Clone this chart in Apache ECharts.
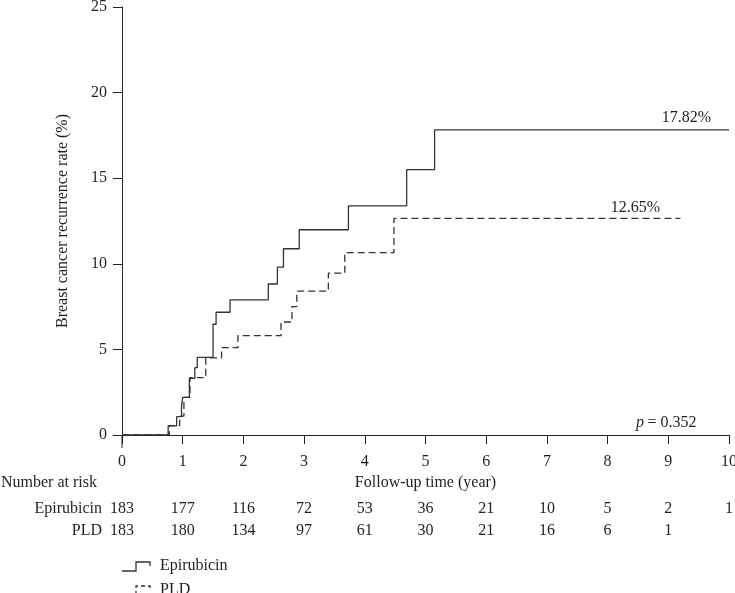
<!DOCTYPE html>
<html>
<head>
<meta charset="utf-8">
<script src="https://cdn.jsdelivr.net/npm/echarts@6/dist/echarts.min.js"></script>
<style>
html,body{margin:0;padding:0;background:#fff;}
#main{width:735px;height:593px;}
</style>
</head>
<body>
<div id="main"></div>
<script>
// ---- data ----
const xTicks = [0,1,2,3,4,5,6,7,8,9,10];
const seriesNames = ['Epirubicin', 'PLD'];
const epiTimes = [0, 0.76, 0.90, 0.98, 1.00, 1.11, 1.20, 1.24, 1.50, 1.55, 1.78, 2.41, 2.56, 2.66, 2.92, 3.73, 4.69, 5.15, 10.0];
const epiRates = [0, 0.53, 1.07, 1.65, 2.20, 3.31, 3.93, 4.54, 6.47, 7.17, 7.89, 8.82, 9.80, 10.88, 11.99, 13.38, 15.50, 17.82, 17.82];
const pldTimes = [0, 0.78, 0.95, 1.02, 1.12, 1.38, 1.64, 1.91, 2.62, 2.80, 2.88, 3.40, 3.67, 4.48, 9.20];
const pldRates = [0, 0.55, 1.10, 2.20, 3.35, 4.50, 5.10, 5.80, 6.60, 7.50, 8.40, 9.45, 10.65, 12.65, 12.65];
const epiRisk = [183,177,116,72,53,36,21,10,5,2,1];
const pldRisk = [183,180,134,97,61,30,21,16,6,1];
const endLabels = ['17.82%', '12.65%'];
const pText = '= 0.352';

// ---- chart ----
const FONT = '"Liberation Serif", "DejaVu Serif", serif';
const FS = 16;
const TXT = '#231f20';
const chart = echarts.init(document.getElementById('main'));
const toPairs = (t, v) => t.map((x, i) => [x, v[i]]);

chart.setOption({
  animation: false,
  backgroundColor: '#fff',
  grid: {left: 122, right: 6, top: 7, bottom: 158, containLabel: false, outerBoundsMode: 'none'},
  xAxis: {
    type: 'value', min: 0, max: 10, interval: 1, offset: 4,
    name: 'Follow-up time (year)', nameLocation: 'middle', nameGap: 36,
    nameTextStyle: {fontFamily: FONT, fontSize: FS, color: TXT},
    axisLine: {show: true, lineStyle: {color: TXT, width: 1}},
    axisTick: {show: true, length: 9, lineStyle: {color: TXT}},
    axisLabel: {fontFamily: FONT, fontSize: FS, color: TXT, margin: 15, showMinLabel: true, showMaxLabel: true},
    splitLine: {show: false}
  },
  yAxis: {
    type: 'value', min: 0, max: 25, interval: 5,
    name: 'Breast cancer recurrence rate (%)', nameLocation: 'middle', nameGap: 51,
    nameTextStyle: {fontFamily: FONT, fontSize: FS, color: TXT},
    axisLine: {show: true, lineStyle: {color: TXT, width: 1}},
    axisTick: {show: true, length: 9, lineStyle: {color: TXT}},
    axisLabel: {fontFamily: FONT, fontSize: FS, color: TXT, margin: 15},
    splitLine: {show: false}
  },
  series: [
    {name: seriesNames[0], type: 'line', step: 'end', symbol: 'none',
     data: toPairs(epiTimes, epiRates),
     lineStyle: {color: '#333', width: 1.3, type: 'solid'}},
    {name: seriesNames[1], type: 'line', step: 'end', symbol: 'none',
     data: toPairs(pldTimes, pldRates),
     lineStyle: {color: '#333', width: 1.3, type: [7, 4]}}
  ]
});

// ---- annotations, risk table, legend ----
const px = (x, y) => chart.convertToPixel({gridIndex: 0}, [x, y]);
const g = [];
const txt = (x, y, s, align) => g.push({
  type: 'text', x: x, y: y, silent: true,
  style: {text: s, font: FS + 'px ' + FONT, fill: TXT, textAlign: align || 'center', textVerticalAlign: 'middle'}
});

// y-axis extension below the x axis
const o = px(0, 0);
g.push({type: 'line', shape: {x1: o[0], y1: o[1], x2: o[0], y2: o[1] + 13}, style: {stroke: TXT, lineWidth: 1}});

// end labels
let p = px(9.3, 18.5); txt(p[0], p[1], endLabels[0]);
p = px(8.46, 13.26); txt(p[0], p[1], endLabels[1]);
p = px(9.0, 0.7);
g.push({type: 'text', x: p[0] - 2, y: p[1], silent: true,
  style: {rich: {i: {fontFamily: FONT, fontSize: FS, fontStyle: 'italic', fill: TXT}, n: {fontFamily: FONT, fontSize: FS, fill: TXT}},
          text: '{i|p} {n|' + pText + '}', textAlign: 'center', textVerticalAlign: 'middle'}});

// risk table
txt(1, 483, 'Number at risk', 'left');
txt(102, 509, seriesNames[0], 'right');
txt(102, 531, seriesNames[1], 'right');
epiRisk.forEach((n, i) => { const q = px(xTicks[i], 0); txt(q[0], 509, String(n)); });
pldRisk.forEach((n, i) => { const q = px(xTicks[i], 0); txt(q[0], 531, String(n)); });

// legend
const lx = 122;
g.push({type: 'polyline', shape: {points: [[lx, 571], [lx + 14, 571], [lx + 14, 562], [lx + 28, 562], [lx + 28, 566]]},
  style: {stroke: '#333', lineWidth: 1.3, fill: null}});
txt(lx + 38, 566, seriesNames[0], 'left');
g.push({type: 'polyline', shape: {points: [[lx, 595], [lx + 14, 595], [lx + 14, 586], [lx + 28, 586], [lx + 28, 590]]},
  style: {stroke: '#333', lineWidth: 1.3, fill: null, lineDash: [4, 3]}});
txt(lx + 38, 590, seriesNames[1], 'left');

chart.setOption({graphic: {elements: g}});
</script>
</body>
</html>
